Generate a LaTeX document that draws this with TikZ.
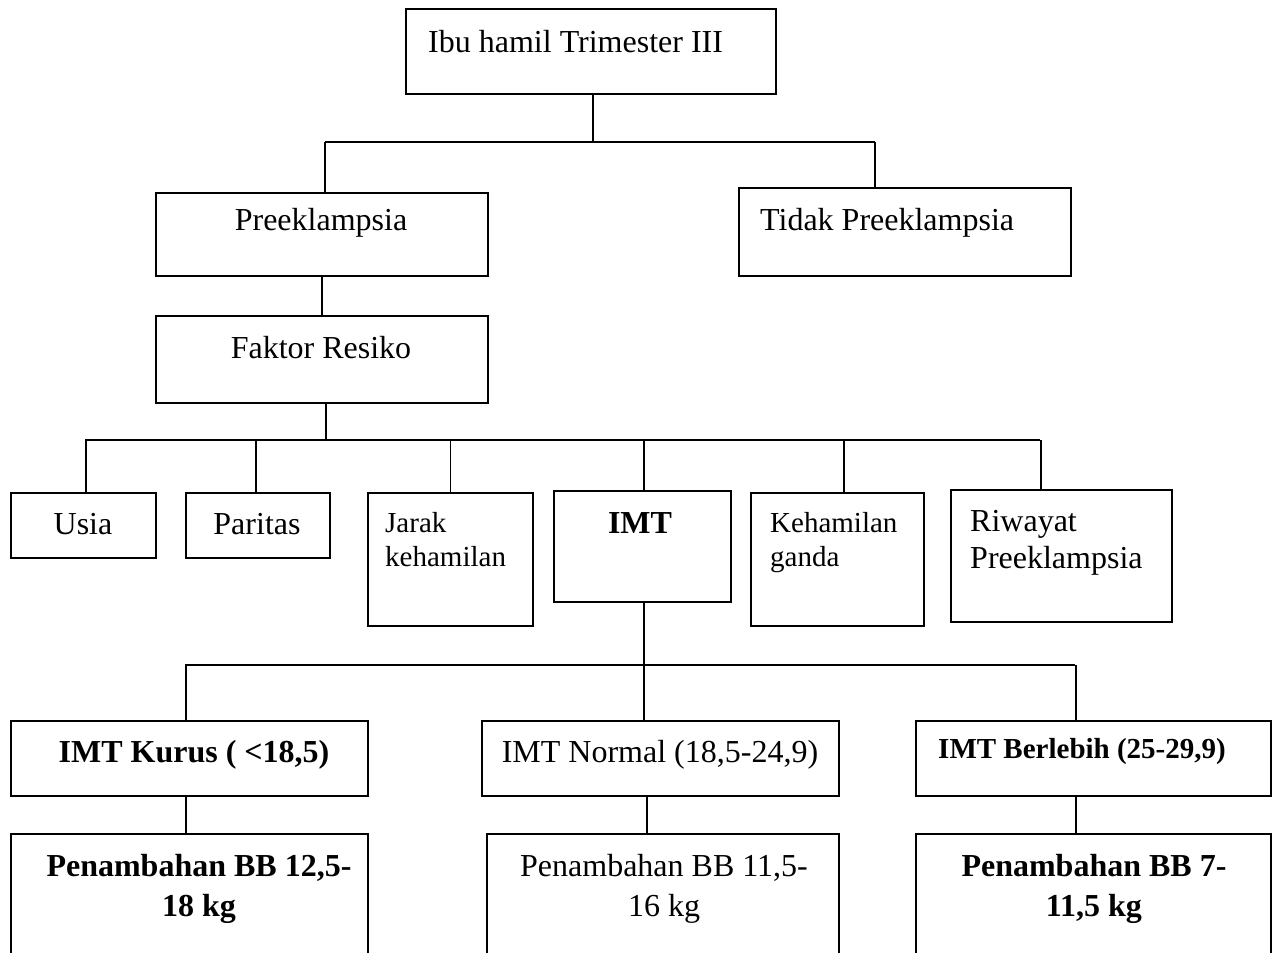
\documentclass[tikz,border=0pt]{standalone}
\usepackage{fontspec}
\setmainfont{Liberation Serif}
\usetikzlibrary{positioning}

\newcommand{\lgfont}{\fontsize{32}{37}\selectfont}
\newcommand{\smfont}{\fontsize{29}{34}\selectfont}

\begin{document}
\begin{tikzpicture}[
  x=1pt, y=-1pt,
  box/.style={draw, line width=1.6pt, inner sep=0pt, anchor=north west},
  txt/.style={inner sep=0pt, font=\lgfont},
  txtsm/.style={inner sep=0pt, font=\smfont},
  link/.style={line width=1.6pt}
]
\useasboundingbox (0,0) rectangle (1272,953);

\node[box, minimum width=370pt, minimum height=85pt] (top) at (405,8) {};
\node[box, minimum width=332pt, minimum height=83pt] (pre) at (155,192) {};
\node[box, minimum width=332pt, minimum height=88pt] (tidak) at (738,187) {};
\node[box, minimum width=332pt, minimum height=87pt] (faktor) at (155,315) {};
\node[box, minimum width=145pt, minimum height=65pt] (usia) at (10,492) {};
\node[box, minimum width=144pt, minimum height=65pt] (paritas) at (185,492) {};
\node[box, minimum width=165pt, minimum height=133pt] (jarak) at (367,492) {};
\node[box, minimum width=177pt, minimum height=111pt] (imt) at (553,490) {};
\node[box, minimum width=173pt, minimum height=133pt] (ganda) at (750,492) {};
\node[box, minimum width=221pt, minimum height=132pt] (riwayat) at (950,489) {};
\node[box, minimum width=357pt, minimum height=75pt] (kurus) at (10,720) {};
\node[box, minimum width=357pt, minimum height=75pt] (normal) at (481,720) {};
\node[box, minimum width=355pt, minimum height=75pt] (lebih) at (915,720) {};
\node[box, minimum width=357pt, minimum height=140pt] (pkurus) at (10,833) {};
\node[box, minimum width=352pt, minimum height=140pt] (pnormal) at (486,833) {};
\node[box, minimum width=355pt, minimum height=140pt] (plebih) at (915,833) {};

\node[txt, anchor=base west] (top-t) at (428,52) {Ibu hamil Trimester III};
\node[txt, anchor=base] (pre-t) at (321,230) {Preeklampsia};
\node[txt, anchor=base west] (tidak-t) at (760,230) {Tidak Preeklampsia};
\node[txt, anchor=base] (faktor-t) at (321,358) {Faktor Resiko};
\node[txt, anchor=base] (usia-t) at (83,534) {Usia};
\node[txt, anchor=base] (paritas-t) at (257,534) {Paritas};
\node[txtsm, anchor=base west, align=left] (jarak-t) at (385,566) {Jarak\\kehamilan};
\node[txt, anchor=base, font=\lgfont\bfseries] (imt-t) at (640,533) {IMT};
\node[txtsm, anchor=base west, align=left] (ganda-t) at (770,566) {Kehamilan\\ganda};
\node[txt, anchor=base west, align=left] (riwayat-t) at (970,568) {Riwayat\\Preeklampsia};
\node[txt, anchor=base, font=\lgfont\bfseries] (kurus-t) at (194,762) {IMT Kurus ( <18,5)};
\node[txt, anchor=base] (normal-t) at (660,762) {IMT Normal (18,5-24,9)};
\node[txtsm, anchor=base, font=\smfont\bfseries] (lebih-t) at (1082,758) {IMT Berlebih (25-29,9)};
\node[txt, anchor=base, align=center, font=\lgfont\bfseries] (pkurus-t) at (199,916) {Penambahan BB 12,5-\\[3pt]18 kg};
\node[txt, anchor=base, align=center] (pnormal-t) at (664,916) {Penambahan BB 11,5-\\[3pt]16 kg};
\node[txt, anchor=base, align=center, font=\lgfont\bfseries] (plebih-t) at (1094,916) {Penambahan BB 7-\\[3pt]11,5 kg};

\coordinate (b1l) at (325,142);
\coordinate (b1r) at (875,142);
\coordinate (b2l) at (85,440);
\coordinate (b2r) at (1040,440);
\coordinate (b3l) at (185,665);
\coordinate (b3r) at (1075,665);

\draw[link] ([xshift=2pt]top.south) -- ([xshift=2pt]top.south |- b1l);
\draw[link] (b1l) -- (b1r);
\draw[link] (b1l) -- (b1l |- pre.north);
\draw[link] (b1r) -- (b1r |- tidak.north);
\draw[link] (pre.south) -- (faktor.north);
\draw[link] ([xshift=4pt]faktor.south) -- ([xshift=4pt]faktor.south |- b2l);
\draw[link] (b2l) -- (b2r);
\foreach \n/\dx in {usia/2.5, paritas/-2, jarak/0, imt/1.5, ganda/6.5, riwayat/-20.5}
  \draw[link] ([xshift=\dx pt]\n.north) -- ([xshift=\dx pt]\n.north |- b2l);
\draw[link] ([xshift=1.5pt]imt.south) -- ([xshift=1.5pt]imt.south |- b3l);
\draw[link] (b3l) -- (b3r);
\foreach \n/\dx in {kurus/-3.5, normal/-16.5, lebih/-17.5}
  \draw[link] ([xshift=\dx pt]\n.north) -- ([xshift=\dx pt]\n.north |- b3l);
\foreach \a/\b/\dx in {kurus/pkurus/-3.5, normal/pnormal/-13.5, lebih/plebih/-17.5}
  \draw[link] ([xshift=\dx pt]\a.south) -- ([xshift=\dx pt]\a.south |- \b.north);
\end{tikzpicture}
\end{document}
